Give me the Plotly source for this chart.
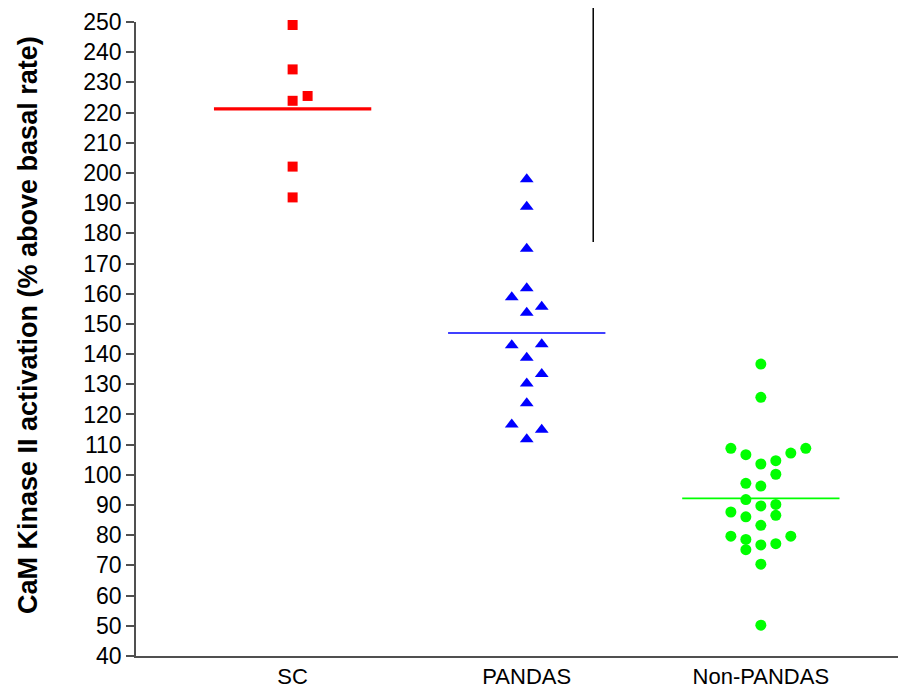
import plotly.graph_objects as go

categories = ["SC", "PANDAS", "Non-PANDAS"]

sc_values = [249.0, 234.3, 223.9, 225.5, 202.1, 191.9]
sc_cols = [0, 0, 0, 1, 0, 0]

pandas_values = [197.9, 188.8, 174.9, 161.8, 158.8, 155.7, 153.7, 142.9, 143.3,
                 138.8, 133.4, 130.3, 123.7, 116.7, 114.9, 111.8]
pandas_cols = [0, 0, 0, 0, -1, 1, 0, -1, 1, 0, 1, 0, 0, -1, 1, 0]

nonpandas_values = [136.7, 125.7, 108.8, 108.8, 106.7, 107.2, 103.6, 104.7, 100.2,
                    97.2, 96.3, 91.8, 89.7, 90.2, 87.7, 86.1, 86.6, 83.3, 79.7,
                    79.7, 78.6, 76.8, 77.2, 75.2, 70.4, 50.2]
nonpandas_cols = [0, 0, -2, 3, -1, 2, 0, 1, 1, -1, 0, -1, 0, 1, -2, -1, 1, 0, -2,
                  2, -1, 0, 1, -1, 0, 0]

mean_values = [221.2, 147.0, 92.2]

y_ticks = list(range(40, 251, 10))
y_title = "CaM Kinase II activation (% above basal rate)"

STEP = 0.064
HALF = 0.336

groups = [
    (sc_values, sc_cols, "square", "#ff0000", 10, 3.2),
    (pandas_values, pandas_cols, "triangle-up", "#0000ff", 12, 1.6),
    (nonpandas_values, nonpandas_cols, "circle", "#00ff00", 11, 1.6),
]

fig = go.Figure()
for i, (vals, cols, sym, col, size, lw) in enumerate(groups):
    fig.add_trace(go.Scatter(
        x=[i + c * STEP for c in cols], y=vals, mode="markers",
        marker=dict(symbol=sym, color=col, size=size, line=dict(width=0)),
        showlegend=False, cliponaxis=False))
    fig.add_trace(go.Scatter(
        x=[i - HALF, i + HALF], y=[mean_values[i], mean_values[i]], mode="lines",
        line=dict(color=col, width=lw), showlegend=False))

fig.add_shape(type="line", xref="x", yref="paper", x0=1.284, x1=1.284,
              y0=0.653, y1=1.03, line=dict(color="black", width=1.5))

fig.add_annotation(
    text="<b>" + y_title + "</b>", xref="paper", yref="paper",
    x=-0.1403, y=0.522, xanchor="center", yanchor="middle", textangle=-90,
    showarrow=False, font=dict(size=27, color="black"))

fig.update_layout(
    width=898, height=682,
    margin=dict(l=128, r=0, t=14, b=34),
    paper_bgcolor="white", plot_bgcolor="white",
    font=dict(family="Liberation Sans, Arial, sans-serif", color="black"),
)
fig.update_xaxes(
    range=[-0.669, 2.62], tickvals=[0, 1, 2], ticktext=categories,
    showgrid=False, zeroline=False, showline=True, linecolor="#505050",
    linewidth=1.5, ticks="", tickfont=dict(size=22),
)
fig.update_yaxes(
    range=[40, 250], tickvals=y_ticks, showgrid=False, zeroline=False,
    showline=True, linecolor="#505050", linewidth=1.5, ticks="outside",
    ticklen=8, tickcolor="#505050", tickwidth=1.5, tickfont=dict(size=23),
)

fig.write_html("out.html")
